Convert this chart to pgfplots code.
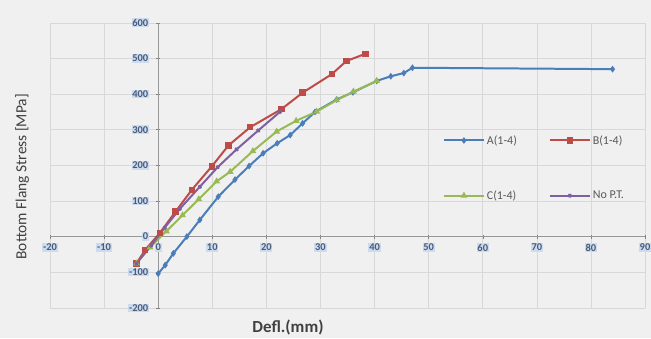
\documentclass[border=0pt]{standalone}
\usepackage{pgfplots}
\pgfplotsset{compat=1.18}
\usepackage{fontspec}
\setmainfont{Carlito}
\definecolor{bgcol}{HTML}{F0F0F0}
\definecolor{gridcol}{HTML}{D8D8D8}
\definecolor{tickcol}{HTML}{4A5A7A}
\definecolor{tickbg}{HTML}{CCDCEE}
\definecolor{cA}{HTML}{4A7EBB}
\definecolor{cB}{HTML}{BE4B48}
\definecolor{cC}{HTML}{98B954}
\definecolor{cD}{HTML}{7D60A0}
\definecolor{labcol}{HTML}{404040}
\begin{document}
\begin{tikzpicture}[x=1bp,y=1bp]
\fill[bgcol] (0,0) rectangle (651,338);
\begin{axis}[
  at={(158.2bp,101.4bp)}, anchor=origin,
  scale only axis, width=595bp, height=285bp,
  xmin=-20, xmax=90, ymin=-200, ymax=600,
  xtick={-20,-10,...,90}, ytick={-200,-100,...,600},
  axis lines=middle,
  axis line style={-, gridcol!70!black, line width=0.6pt},
  hide obscured x ticks=false, hide obscured y ticks=false,
  grid=major,
  major grid style={gridcol, line width=0.6pt},
  tick style={gridcol!60!black, line width=0.5pt},
  major tick length=4bp,
  /pgf/number format/assume math mode=true,
  tick label style={font=\fontsize{10.5}{12}\selectfont\bfseries, text=tickcol, fill=tickbg, inner sep=0.8pt},
  xticklabel style={yshift=-4.5bp},
  yticklabel style={xshift=-7bp},
  xlabel={Defl.(mm)},
  ylabel={Bottom Flang Stress [MPa]},
  every axis x label/.style={at={(rel axis cs:0.4,0)}, anchor=center, yshift=-20bp, font=\fontsize{17}{18}\selectfont\bfseries, text=labcol},
  every axis y label/.style={at={(rel axis cs:0,0.46)}, anchor=center, xshift=-28bp, rotate=90, font=\fontsize{15.5}{17}\selectfont, text=labcol},
  legend columns=2,
  legend style={at={(rel axis cs:0.655,0.62)}, anchor=north west, draw=none, fill=none,
    font=\fontsize{12}{14}\selectfont, text=black!65, row sep=41bp,
    /tikz/every even column/.append style={column sep=30bp}},
  legend image code/.code={\draw[mark repeat=2, mark phase=2, #1] plot coordinates {(0,0) (20bp,0) (40bp,0)};},
  legend cell align=left,
  clip=false,
]
\addplot[cA, line width=2pt, mark=diamond*, mark size=1.8pt] coordinates {
(0,-104) (1.3,-80) (2.8,-47) (5.3,0) (7.7,47) (11.1,112) (14.2,160) (16.8,198) (19.4,234) (22,262) (24.4,285) (26.7,318) (29,350) (33,385) (36,405) (40.4,437) (43,450) (45.4,459) (47,474) (84,470)};
\addlegendentry{A(1-4)}
\addplot[cB, line width=2pt, mark=square*, mark size=2.2pt] coordinates {
(-4,-75) (-2.4,-37) (0.3,10) (3.2,70) (6.2,131) (9.9,197) (13,256) (17,307) (22.8,358) (26.7,404) (32.1,456) (34.8,493) (38.3,513)};
\addlegendentry{B(1-4)}
\addplot[cC, line width=2pt, mark=triangle*, mark size=2pt] coordinates {
(-4,-75) (-1.5,-30) (1.5,15) (4.5,60) (7.5,105) (10.8,155) (13.3,182) (17.5,240) (21.9,295) (25.5,325) (29.3,351) (33,383) (36.1,407) (40.4,437)};
\addlegendentry{C(1-4)}
\addplot[cD, line width=2pt, mark=x, mark size=2pt] coordinates {
(-4,-75) (-1.3,-25) (1.2,25) (4,78) (7.7,140) (11,195) (14.5,245) (18.5,298) (22.5,350)};
\addlegendentry{No P.T.}
\end{axis}
\pgfresetboundingbox
\path[use as bounding box] (0,0) rectangle (651,338);
\end{tikzpicture}
\end{document}
